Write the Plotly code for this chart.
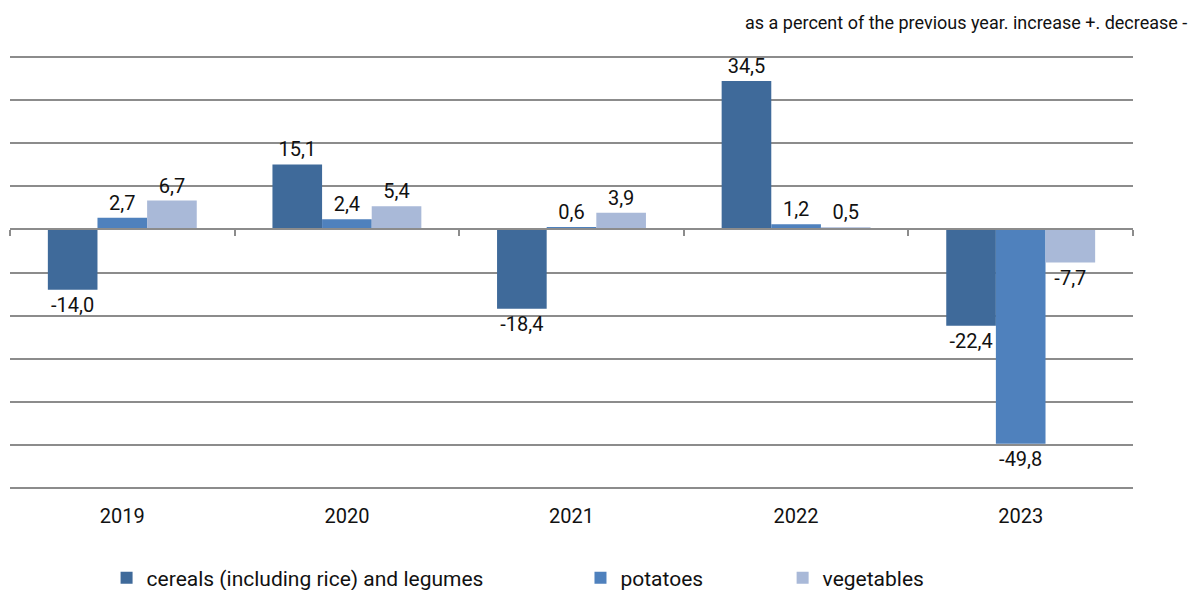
import plotly.graph_objects as go

years = ['2019', '2020', '2021', '2022', '2023']
cereals = [-14.0, 15.1, -18.4, 34.5, -22.4]
potatoes = [2.7, 2.4, 0.6, 1.2, -49.8]
vegetables = [6.7, 5.4, 3.9, 0.5, -7.7]

names = ['cereals (including rice) and legumes', 'potatoes', 'vegetables']
colors = ['#3F6A9A', '#4F81BD', '#A9B9D8']
legends = ['legend', 'legend2', 'legend3']


def fmt(v):
    return f'{v:.1f}'.replace('.', ',')


fig = go.Figure()
for name, vals, col, lg in zip(names, [cereals, potatoes, vegetables], colors, legends):
    fig.add_trace(go.Bar(
        x=list(range(len(years))), y=vals, name=name, legend=lg,
        marker=dict(color=col, line=dict(width=0)),
        text=[fmt(v) for v in vals], textposition='outside', cliponaxis=False,
        constraintext='none', textfont=dict(size=20, color='#111'),
    ))

# axis at zero with boundary tick marks
fig.add_trace(go.Scatter(x=[-0.5, 4.5], y=[0, 0], xaxis='x2', mode='lines',
                         line=dict(width=0), showlegend=False, hoverinfo='skip'))

grid = '#8c8c8c'
legend_common = dict(orientation='h', yref='container', yanchor='middle', y=0.02,
                     xanchor='left', font=dict(size=21, color='#111'),
                     bgcolor='rgba(0,0,0,0)', itemwidth=30)
fig.update_layout(
    width=1195, height=590,
    margin=dict(l=10, r=62, t=53, b=98, autoexpand=False),
    paper_bgcolor='white', plot_bgcolor='white',
    font=dict(family='Roboto', color='#111'),
    barmode='group', bargap=0.337, bargroupgap=0,
    xaxis=dict(range=[-0.5, 4.5], tickvals=list(range(len(years))), ticktext=years,
               showgrid=False, zeroline=False, showline=False, ticks='',
               automargin=False, ticklabelstandoff=10,
               tickfont=dict(size=20, color='#111')),
    xaxis2=dict(overlaying='x', anchor='free', position=61 / 102, range=[-0.5, 4.5],
                tickvals=[-0.5, 0.5, 1.5, 2.5, 3.5, 4.5], showticklabels=False,
                ticks='outside', ticklen=6, tickcolor=grid, tickwidth=1.5,
                showline=True, linecolor=grid, linewidth=1.5, showgrid=False,
                zeroline=False),
    yaxis=dict(range=[-61, 41], tickvals=list(range(-60, 41, 10)),
               showticklabels=False, showgrid=True, automargin=False,
               gridcolor=grid, gridwidth=1.5, zeroline=False, ticks=''),
    legend=dict(**legend_common, x=0.086),
    legend2=dict(**legend_common, x=0.508),
    legend3=dict(**legend_common, x=0.688),
    annotations=[dict(text='as a percent of the previous year. increase +. decrease -',
                      xref='paper', yref='paper', x=1.05, y=1.0, yshift=31,
                      xanchor='right', yanchor='middle', showarrow=False,
                      font=dict(size=18, color='#111'))],
)

fig.write_html("out.html", config={'displayModeBar': False},
               post_script="document.body.style.margin='0';")
